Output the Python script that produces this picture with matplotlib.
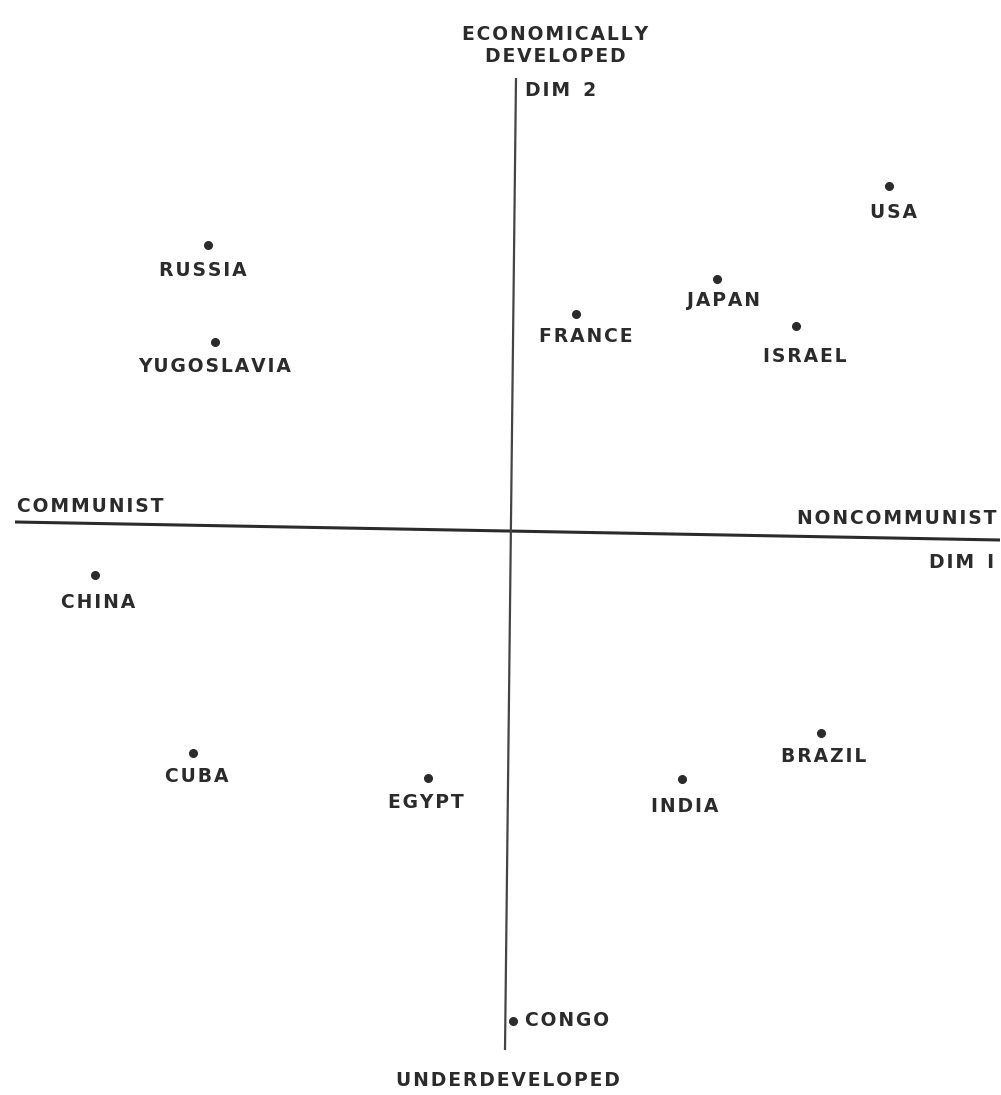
import matplotlib
matplotlib.use("Agg")
import matplotlib.pyplot as plt

# Country positions (Dim 1, Dim 2)
countries = ["USA", "RUSSIA", "JAPAN", "FRANCE", "ISRAEL", "YUGOSLAVIA",
             "CHINA", "CUBA", "EGYPT", "INDIA", "BRAZIL", "CONGO"]
dim1 = [3.79, -3.02, 2.07, 0.66, 2.86, -2.95, -4.15, -3.17, -0.82, 1.72, 3.11, 0.03]
dim2 = [3.45, 2.86, 2.52, 2.17, 2.05, 1.89, -0.44, -2.22, -2.47, -2.48, -2.02, -4.90]

# label offsets (in pixels) relative to the dot
label_dx = [4, -5, 7, 10, 9, 0, 3, 4, -2, 3, 3, 12]
label_dy = [-26, -26, -21, -23, -30, -24, -27, -23, -24, -27, -24, 0]
label_ha = ["center"] * 11 + ["left"]

# axis line end points (slightly skewed as in the scan)
h_axis_x = [-4.95, 4.90]
h_axis_y = [0.09, -0.09]
v_axis_x = [0.06, -0.05]
v_axis_y = [4.53, -5.19]

W, H = 1001, 1095
fig = plt.figure(figsize=(W / 100, H / 100), dpi=100)
ax = fig.add_axes([0, 0, 1, 1])
ax.set_xlim(-5.10, 4.91)
ax.set_ylim(-5.64, 5.31)
ax.axis("off")

ink = "#2b2b2b"


def spaced(s):
    return "\u200a".join(s)


txt = dict(fontfamily="DejaVu Sans", fontweight="bold", fontsize=13.5, color=ink)

ax.plot(h_axis_x, h_axis_y, color=ink, lw=2.2, solid_capstyle="butt")
ax.plot(v_axis_x, v_axis_y, color="#444444", lw=1.6, solid_capstyle="butt")

ax.plot(dim1, dim2, "o", color=ink, markersize=5.5, ls="none")

for name, x, y, dx, dy, ha in zip(countries, dim1, dim2, label_dx, label_dy, label_ha):
    ax.annotate(spaced(name), (x, y), xytext=(dx, dy), textcoords="offset pixels",
                ha=ha, va="center", **txt)

ax.text(0.45, 4.96, spaced("ECONOMICALLY"), ha="center", va="center", **txt)
ax.text(0.45, 4.74, spaced("DEVELOPED"), ha="center", va="center", **txt)
ax.text(0.15, 4.41, "D\u200aI\u200aM  2", ha="left", va="center", **txt)
ax.text(-4.20, 0.24, spaced("COMMUNIST"), ha="center", va="center", **txt)
ax.text(3.87, 0.13, spaced("NONCOMMUNIST"), ha="center", va="center", **txt)
ax.text(4.52, -0.32, "D\u200aI\u200aM  I", ha="center", va="center", **txt)
ax.text(-0.02, -5.50, spaced("UNDERDEVELOPED"), ha="center", va="center", **txt)

fig.savefig("out.png", dpi=100, facecolor="white")
